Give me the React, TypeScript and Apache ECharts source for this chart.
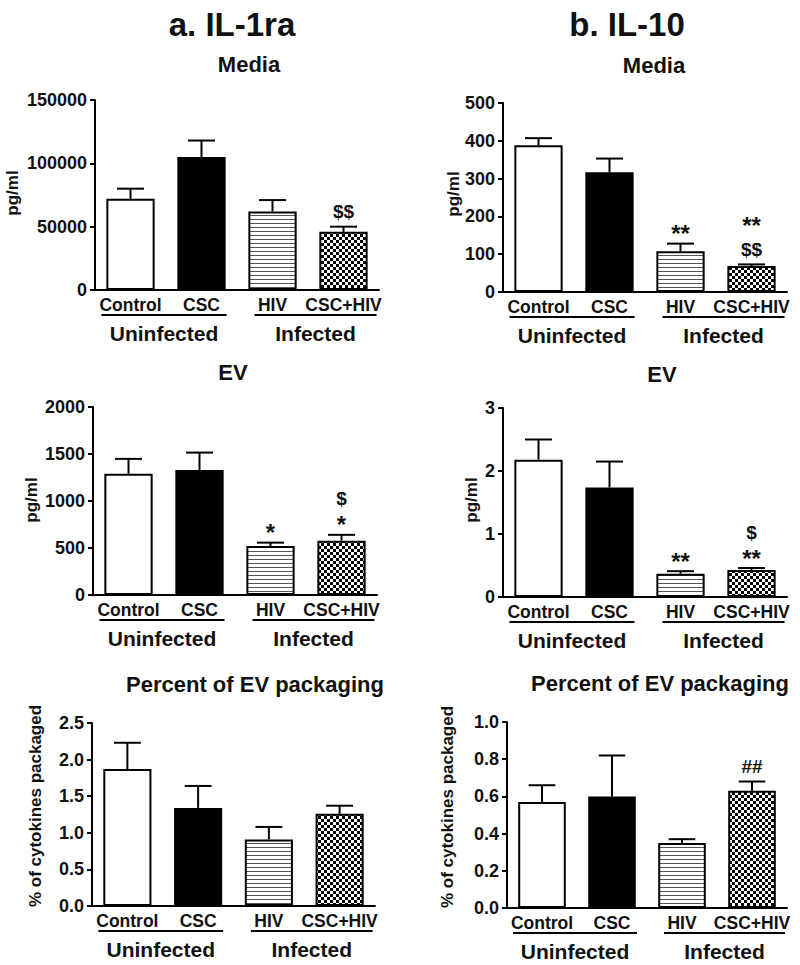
import React, { useEffect, useRef } from 'react';
import * as echarts from 'echarts';

// ---------- data ----------
const categories = ['Control', 'CSC', 'HIV', 'CSC+HIV'];
const groupLabels = ['Uninfected', 'Infected'];

const il1raMedia = [72000, 105000, 62000, 46000];
const il1raMediaErr = [8000, 13000, 9000, 4000];
const il1raMediaSig = ['', '', '', '$$'];

const il10Media = [388, 317, 108, 69];
const il10MediaErr = [19, 36, 20, 4];
const il10MediaSig = ['', '', '**', '**\n$$'];

const il1raEV = [1290, 1330, 522, 578];
const il1raEVErr = [158, 185, 35, 62];
const il1raEVSig = ['', '', '*', '$\n*'];

const il10EV = [2.18, 1.74, 0.37, 0.43];
const il10EVErr = [0.32, 0.41, 0.04, 0.03];
const il10EVSig = ['', '', '**', '$\n**'];

const il1raPct = [1.87, 1.34, 0.91, 1.26];
const il1raPctErr = [0.36, 0.3, 0.17, 0.11];
const il1raPctSig = ['', '', '', ''];

const il10Pct = [0.57, 0.6, 0.35, 0.63];
const il10PctErr = [0.09, 0.22, 0.02, 0.05];
const il10PctSig = ['', '', '', '##'];

const columnTitles = ['a. IL-1ra', 'b. IL-10'];
const panelTitles = ['Media', 'Media', 'EV', 'EV', 'Percent of EV packaging', 'Percent of EV packaging'];
const yNames = ['pg/ml', 'pg/ml', 'pg/ml', 'pg/ml', '% of cytokines packaged', '% of cytokines packaged'];
const yMax = [150000, 500, 2000, 3, 2.5, 1.0];
const yInterval = [50000, 100, 500, 1, 0.5, 0.2];
const yDecimals = [0, 0, 0, 0, 1, 1];

const panelValues = [il1raMedia, il10Media, il1raEV, il10EV, il1raPct, il10Pct];
const panelErrors = [il1raMediaErr, il10MediaErr, il1raEVErr, il10EVErr, il1raPctErr, il10PctErr];
const panelSigs = [il1raMediaSig, il10MediaSig, il1raEVSig, il10EVSig, il1raPctSig, il10PctSig];

// ---------- layout ----------
const grids = [
  { left: 95, top: 100, width: 284, height: 190 },
  { left: 503, top: 103, width: 284, height: 189 },
  { left: 93, top: 407, width: 284, height: 188 },
  { left: 503, top: 408, width: 284, height: 189 },
  { left: 92, top: 723, width: 283, height: 183 },
  { left: 507, top: 722, width: 280, height: 186 },
];
const titlePos = [
  [249, 64], [654, 65], [233, 372], [662, 374], [255, 684], [660, 683],
];
const yNamePos = [
  [12, 193], [453, 194], [31, 500], [471, 500], [35, 806], [447, 807],
];
const columnTitlePos = [[232, 24], [627, 24]];

const FONT = "'Liberation Sans', Arial, Helvetica, sans-serif";
const INK = '#111';
const STAR_FS = 24;
const SIGN_FS = 19;

function makePattern(kind: 'stripe' | 'check') {
  const c = document.createElement('canvas');
  const ctx = c.getContext('2d')!;
  if (kind === 'stripe') {
    c.width = 4;
    c.height = 4;
    ctx.fillStyle = '#fff';
    ctx.fillRect(0, 0, 4, 4);
    ctx.fillStyle = '#555';
    ctx.fillRect(0, 3, 4, 1);
  } else {
    c.width = 6;
    c.height = 6;
    ctx.fillStyle = '#fff';
    ctx.fillRect(0, 0, 6, 6);
    ctx.fillStyle = '#000';
    ctx.fillRect(0, 0, 3, 3);
    ctx.fillRect(3, 3, 3, 3);
  }
  return { image: c, repeat: 'repeat', imageWidth: c.width, imageHeight: c.height } as any;
}

export default function App() {
  const ref = useRef<HTMLDivElement>(null);

  useEffect(() => {
    if (!ref.current) return;
    const chart = echarts.init(ref.current, undefined, { renderer: 'svg' });

    const fills = ['#ffffff', '#000000', makePattern('stripe'), makePattern('check')];

    const xAxes: any[] = [];
    const yAxes: any[] = [];
    const series: any[] = [];
    const graphics: any[] = [];

    grids.forEach((g, p) => {
      xAxes.push({
        type: 'category',
        gridIndex: p,
        data: categories,
        axisLine: { lineStyle: { color: '#000', width: 2 } },
        axisTick: { alignWithLabel: true, length: 5, lineStyle: { color: '#000', width: 2 } },
        axisLabel: {
          interval: 0,
          margin: 6,
          fontSize: 17.5,
          fontWeight: 'bold',
          fontFamily: FONT,
          color: INK,
        },
      });
      const dec = yDecimals[p];
      yAxes.push({
        type: 'value',
        gridIndex: p,
        min: 0,
        max: yMax[p],
        interval: yInterval[p],
        splitLine: { show: false },
        axisLine: { show: true, lineStyle: { color: '#000', width: 2 } },
        axisTick: { show: true, length: 5, lineStyle: { color: '#000', width: 2 } },
        axisLabel: {
          margin: 8,
          fontSize: 18,
          fontWeight: 'bold',
          fontFamily: FONT,
          color: INK,
          formatter: (v: number) => v.toFixed(dec),
        },
      });

      series.push({
        type: 'bar',
        xAxisIndex: p,
        yAxisIndex: p,
        barWidth: '68%',
        data: panelValues[p].map((v, i) => ({
          value: v,
          itemStyle: { color: fills[i], borderColor: '#000', borderWidth: 2 },
        })),
      });

      const sigs = panelSigs[p];
      series.push({
        type: 'custom',
        xAxisIndex: p,
        yAxisIndex: p,
        z: 5,
        data: panelValues[p].map((v, i) => [i, v, panelErrors[p][i]]),
        encode: { x: 0, y: 1 },
        renderItem: (params: any, api: any) => {
          const idx = api.value(0);
          const mean = api.value(1);
          const err = api.value(2);
          const top = api.coord([idx, mean]);
          const cap = api.coord([idx, mean + err]);
          const band = api.size([1, 0])[0];
          const hw = band * 0.19;
          const children: any[] = [
            {
              type: 'line',
              shape: { x1: top[0], y1: top[1], x2: top[0], y2: cap[1] },
              style: { stroke: '#000', lineWidth: 2 },
            },
            {
              type: 'line',
              shape: { x1: top[0] - hw, y1: cap[1], x2: top[0] + hw, y2: cap[1] },
              style: { stroke: '#000', lineWidth: 2 },
            },
          ];
          const sig = sigs[params.dataIndex];
          if (sig) {
            const lines: string[] = sig.split('\n').reverse(); // bottom first
            let mid = 0;
            lines.forEach((ln, k) => {
              const isStar = ln.indexOf('*') >= 0;
              if (k === 0) {
                mid = isStar ? cap[1] - 10 : cap[1] - 15;
              } else {
                mid -= isStar ? 24 : 26;
              }
              children.push({
                type: 'text',
                style: {
                  text: ln,
                  x: top[0],
                  y: mid,
                  align: 'center',
                  verticalAlign: 'middle',
                  fontSize: isStar ? STAR_FS : SIGN_FS,
                  fontWeight: 'bold',
                  fontFamily: FONT,
                  fill: INK,
                },
              });
            });
          }
          return { type: 'group', children };
        },
      });

      // panel titles
      graphics.push({
        type: 'text',
        x: titlePos[p][0],
        y: titlePos[p][1],
        style: {
          text: panelTitles[p],
          align: 'center',
          verticalAlign: 'middle',
          fontSize: 22,
          fontWeight: 'bold',
          fontFamily: FONT,
          fill: INK,
        },
      });
      // y-axis names
      graphics.push({
        type: 'text',
        x: yNamePos[p][0],
        y: yNamePos[p][1],
        rotation: Math.PI / 2,
        style: {
          text: yNames[p],
          align: 'center',
          verticalAlign: 'middle',
          fontSize: 17,
          fontWeight: 'bold',
          fontFamily: FONT,
          fill: INK,
        },
      });
      // group underlines and labels
      const w = g.width / 4;
      const c = [0, 1, 2, 3].map((i) => g.left + w * (i + 0.5));
      const bottom = g.top + g.height;
      const spans = [
        [c[0] - 29, c[1] + 25],
        [c[2] - 18, c[3] + 33],
      ];
      spans.forEach((s, k) => {
        graphics.push({
          type: 'line',
          shape: { x1: s[0], y1: bottom + 25, x2: s[1], y2: bottom + 25 },
          style: { stroke: '#000', lineWidth: 2 },
        });
        graphics.push({
          type: 'text',
          x: (s[0] + s[1]) / 2,
          y: bottom + 43,
          style: {
            text: groupLabels[k],
            align: 'center',
            verticalAlign: 'middle',
            fontSize: 21,
            fontWeight: 'bold',
            fontFamily: FONT,
            fill: INK,
          },
        });
      });
    });

    columnTitles.forEach((t, i) => {
      graphics.push({
        type: 'text',
        x: columnTitlePos[i][0],
        y: columnTitlePos[i][1],
        style: {
          text: t,
          align: 'center',
          verticalAlign: 'middle',
          fontSize: 33,
          fontWeight: 'bold',
          fontFamily: FONT,
          fill: INK,
        },
      });
    });

    chart.setOption({
      animation: false,
      backgroundColor: '#ffffff',
      grid: grids.map((g) => ({ ...g, containLabel: false })),
      xAxis: xAxes,
      yAxis: yAxes,
      series,
      graphic: graphics,
    });

    return () => chart.dispose();
  }, []);

  return (
    <div
      ref={ref}
      style={{ position: 'fixed', left: 0, top: 0, width: 800, height: 965, background: '#fff' }}
    />
  );
}
